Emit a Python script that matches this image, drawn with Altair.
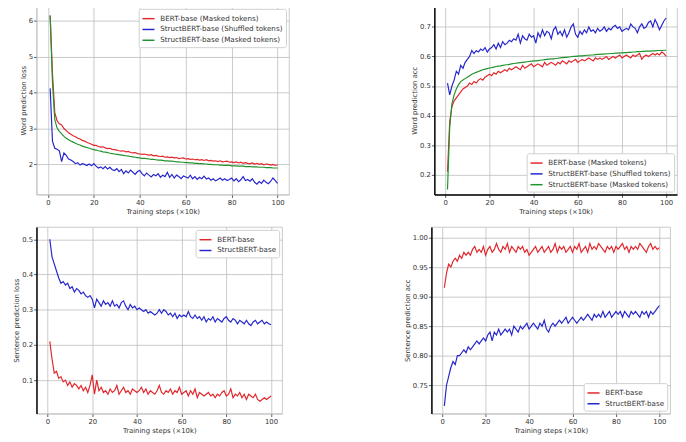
import altair as alt
import pandas as pd

steps = list(range(1, 101))
x_ticks = [0, 20, 40, 60, 80, 100]
X_TITLE = "Training steps (×10k)"
FONT = "DejaVu Sans"
RED = "#e3262b"
BLUE = "#2626cc"
GREEN = "#22922e"

# ---- Panel 1: word prediction loss ----
wl_names = ["BERT-base (Masked tokens)", "StructBERT-base (Shuffled tokens)", "StructBERT-base (Masked tokens)"]
wl_bert_masked = [
    6.15, 4.55, 3.45, 3.22, 3.13, 3.1, 3.0, 2.94, 2.88, 2.84,
    2.8, 2.77, 2.73, 2.71, 2.67, 2.65, 2.61, 2.59, 2.56, 2.53,
    2.53, 2.5, 2.48, 2.49, 2.46, 2.44, 2.45, 2.42, 2.41, 2.4,
    2.38, 2.37, 2.38, 2.35, 2.36, 2.33, 2.32, 2.33, 2.3, 2.29,
    2.28, 2.29, 2.27, 2.26, 2.27, 2.24, 2.25, 2.23, 2.22, 2.23,
    2.2, 2.21, 2.19, 2.2, 2.18, 2.19, 2.16, 2.17, 2.18, 2.15,
    2.16, 2.14, 2.15, 2.13, 2.14, 2.12, 2.13, 2.11, 2.13, 2.1,
    2.11, 2.09, 2.1, 2.08, 2.1, 2.07, 2.08, 2.09, 2.06, 2.07,
    2.05, 2.07, 2.04, 2.06, 2.03, 2.05, 2.03, 2.02, 2.04, 2.01,
    2.03, 2.0, 2.02, 1.99, 2.01, 2.0, 1.98, 2.0, 1.97, 1.99]
wl_struct_shuffled = [
    4.12, 2.65, 2.45, 2.42, 2.38, 2.08, 2.32, 2.25, 2.15, 2.12,
    2.08, 2.02, 2.05, 1.98, 2.02, 2.0, 1.97, 2.01, 1.96, 2.02,
    1.95, 1.9, 1.93, 1.88, 1.94, 1.87, 1.92, 1.85, 1.83, 1.88,
    1.8, 1.86, 1.74, 1.82, 1.76, 1.84, 1.78, 1.72, 1.8, 1.83,
    1.74, 1.68, 1.76, 1.7, 1.65, 1.72, 1.68, 1.74, 1.64, 1.7,
    1.66, 1.78, 1.64, 1.72, 1.62, 1.7, 1.66, 1.6, 1.68, 1.65,
    1.62, 1.7, 1.6, 1.66, 1.58, 1.64, 1.6, 1.67, 1.59, 1.62,
    1.56, 1.6, 1.54, 1.58, 1.62, 1.56, 1.6, 1.55, 1.58, 1.62,
    1.54, 1.6, 1.52, 1.57, 1.66, 1.55, 1.58, 1.53, 1.6, 1.5,
    1.45, 1.52, 1.47, 1.56, 1.5, 1.46, 1.53, 1.62, 1.55, 1.47]
wl_struct_masked = [
    6.15, 4.3, 3.25, 3.02, 2.92, 2.85, 2.78, 2.73, 2.69, 2.65,
    2.62, 2.59, 2.56, 2.54, 2.51, 2.49, 2.47, 2.45, 2.43, 2.41,
    2.4, 2.38, 2.37, 2.35, 2.34, 2.33, 2.31, 2.3, 2.29, 2.28,
    2.27, 2.26, 2.25, 2.24, 2.23, 2.22, 2.21, 2.2, 2.19, 2.18,
    2.17, 2.17, 2.16, 2.15, 2.14, 2.14, 2.13, 2.12, 2.12, 2.11,
    2.1, 2.1, 2.09, 2.09, 2.08, 2.07, 2.07, 2.06, 2.06, 2.05,
    2.05, 2.04, 2.04, 2.03, 2.03, 2.02, 2.02, 2.01, 2.01, 2.0,
    2.0, 1.99, 1.99, 1.99, 1.98, 1.98, 1.97, 1.97, 1.97, 1.96,
    1.96, 1.96, 1.95, 1.95, 1.95, 1.94, 1.94, 1.94, 1.93, 1.93,
    1.93, 1.92, 1.92, 1.92, 1.91, 1.91, 1.91, 1.9, 1.9, 1.9]

# ---- Panel 2: word prediction acc ----
wa_bert_masked = [
    0.21, 0.38, 0.43, 0.45, 0.46, 0.47, 0.48, 0.49, 0.495, 0.5,
    0.51, 0.505, 0.515, 0.51, 0.52, 0.525, 0.52, 0.53, 0.535, 0.54,
    0.535, 0.545, 0.54, 0.55, 0.545, 0.55, 0.555, 0.55, 0.56, 0.555,
    0.56, 0.565, 0.56, 0.555, 0.57, 0.56, 0.565, 0.57, 0.575, 0.565,
    0.57, 0.575, 0.57, 0.565, 0.58, 0.57, 0.575, 0.58, 0.575, 0.57,
    0.58, 0.575, 0.585, 0.58, 0.575, 0.585, 0.58, 0.585, 0.59, 0.58,
    0.585, 0.59, 0.585, 0.59, 0.595, 0.59, 0.585, 0.595, 0.59, 0.595,
    0.59, 0.595, 0.6, 0.59, 0.595, 0.6, 0.595, 0.6, 0.605, 0.595,
    0.6, 0.605, 0.6, 0.595, 0.605, 0.6, 0.605, 0.61, 0.59, 0.6,
    0.605, 0.6, 0.605, 0.61, 0.605, 0.61, 0.605, 0.615, 0.61, 0.6]
wa_struct_shuffled = [
    0.51, 0.47, 0.5, 0.52, 0.55, 0.54, 0.57, 0.56, 0.58, 0.59,
    0.6, 0.62, 0.61, 0.62, 0.615, 0.625, 0.62, 0.63, 0.615, 0.625,
    0.63, 0.64, 0.625, 0.645, 0.63, 0.65, 0.64, 0.645, 0.655, 0.65,
    0.66, 0.655, 0.675, 0.645, 0.67, 0.66, 0.655, 0.675, 0.665, 0.67,
    0.645, 0.68, 0.665, 0.69, 0.67, 0.685, 0.68, 0.66, 0.69, 0.7,
    0.675, 0.685, 0.67, 0.69, 0.665, 0.68, 0.7, 0.71, 0.675, 0.665,
    0.685, 0.675, 0.69, 0.68, 0.7, 0.685, 0.69, 0.68, 0.695, 0.685,
    0.69, 0.7, 0.685, 0.695, 0.69, 0.7, 0.705, 0.695, 0.7, 0.685,
    0.69, 0.695, 0.69, 0.71, 0.7, 0.695, 0.68, 0.7, 0.71, 0.695,
    0.7, 0.715, 0.72, 0.7, 0.725, 0.71, 0.69, 0.705, 0.72, 0.73]
wa_struct_masked = [
    0.15, 0.36, 0.44, 0.47, 0.49, 0.505, 0.515, 0.52, 0.525, 0.53,
    0.535, 0.54, 0.543, 0.546, 0.549, 0.552, 0.555, 0.557, 0.559, 0.561,
    0.562, 0.564, 0.566, 0.567, 0.568, 0.57, 0.571, 0.572, 0.573, 0.575,
    0.576, 0.577, 0.578, 0.579, 0.58, 0.581, 0.582, 0.583, 0.584, 0.585,
    0.585, 0.586, 0.587, 0.588, 0.589, 0.59, 0.591, 0.592, 0.592, 0.593,
    0.594, 0.595, 0.596, 0.597, 0.597, 0.598, 0.599, 0.6, 0.6, 0.601,
    0.602, 0.602, 0.603, 0.604, 0.604, 0.605, 0.605, 0.606, 0.607, 0.607,
    0.608, 0.608, 0.609, 0.609, 0.61, 0.61, 0.611, 0.611, 0.612, 0.612,
    0.613, 0.613, 0.614, 0.614, 0.615, 0.615, 0.616, 0.616, 0.617, 0.617,
    0.618, 0.618, 0.618, 0.619, 0.619, 0.62, 0.62, 0.62, 0.621, 0.621]

# ---- Panel 3: sentence prediction loss ----
s_names = ["BERT-base", "StructBERT-base"]
sl_bert = [
    0.21, 0.16, 0.12, 0.125, 0.105, 0.11, 0.095, 0.1, 0.085, 0.095,
    0.08, 0.09, 0.085, 0.075, 0.085, 0.07, 0.08, 0.065, 0.085, 0.115,
    0.06, 0.1, 0.07, 0.08, 0.065, 0.07, 0.06, 0.075, 0.065, 0.07,
    0.085, 0.06, 0.07, 0.08, 0.065, 0.07, 0.06, 0.075, 0.07, 0.065,
    0.07, 0.08, 0.065, 0.075, 0.06, 0.07, 0.065, 0.06, 0.07, 0.085,
    0.065, 0.06, 0.07, 0.065, 0.075, 0.06, 0.07, 0.065, 0.08, 0.06,
    0.065, 0.07, 0.055, 0.07, 0.06, 0.075, 0.05, 0.065, 0.06, 0.055,
    0.06, 0.065, 0.055, 0.06, 0.05, 0.06, 0.055, 0.065, 0.07, 0.055,
    0.06, 0.075, 0.05, 0.06, 0.055, 0.065, 0.05, 0.06, 0.045, 0.06,
    0.055, 0.05, 0.06, 0.045, 0.04, 0.045, 0.05, 0.045, 0.05, 0.055]
sl_struct = [
    0.5, 0.45, 0.43, 0.41, 0.39, 0.375, 0.38, 0.37, 0.375, 0.36,
    0.365, 0.35, 0.36, 0.355, 0.345, 0.35, 0.34, 0.335, 0.34, 0.33,
    0.305, 0.33, 0.32, 0.31, 0.325, 0.315, 0.32, 0.31, 0.325, 0.31,
    0.315, 0.305, 0.32, 0.325, 0.31, 0.3, 0.315, 0.305, 0.31, 0.3,
    0.305, 0.3, 0.295, 0.3, 0.29, 0.295, 0.29, 0.285, 0.29, 0.3,
    0.29, 0.3, 0.295, 0.285, 0.29, 0.28, 0.29, 0.275, 0.285, 0.28,
    0.285, 0.28, 0.295, 0.28, 0.275, 0.285, 0.275, 0.28, 0.27, 0.28,
    0.265, 0.275, 0.27, 0.28, 0.265, 0.275, 0.27, 0.265, 0.275, 0.28,
    0.27, 0.265, 0.275, 0.27, 0.26, 0.27, 0.265, 0.26, 0.27, 0.26,
    0.255, 0.265, 0.27, 0.26, 0.265, 0.27, 0.26, 0.265, 0.26, 0.257]

# ---- Panel 4: sentence prediction acc ----
sa_bert = [
    0.915, 0.94, 0.955, 0.95, 0.96, 0.965, 0.96, 0.97, 0.965, 0.975,
    0.97, 0.975, 0.97, 0.98, 0.985, 0.975, 0.98, 0.975, 0.985, 0.97,
    0.98, 0.985, 0.975, 0.98, 0.99, 0.98, 0.975, 0.985, 0.98, 0.99,
    0.975, 0.985, 0.98, 0.975, 0.985, 0.98, 0.985, 0.975, 0.98, 0.97,
    0.975, 0.98, 0.985, 0.975, 0.98, 0.985, 0.975, 0.98, 0.985, 0.975,
    0.98, 0.99, 0.975, 0.985, 0.98, 0.985, 0.975, 0.98, 0.985, 0.975,
    0.985, 0.98, 0.99, 0.975, 0.98, 0.985, 0.975, 0.99, 0.98, 0.985,
    0.98, 0.99, 0.985, 0.98, 0.975, 0.985, 0.98, 0.985, 0.975, 0.985,
    0.98, 0.985, 0.99, 0.98, 0.985, 0.975, 0.985, 0.98, 0.985, 0.98,
    0.99, 0.985, 0.98, 0.975, 0.985, 0.99, 0.98, 0.985, 0.98, 0.983]
sa_struct = [
    0.715, 0.75, 0.765, 0.78, 0.79, 0.785, 0.8, 0.8, 0.805, 0.81,
    0.805, 0.815, 0.81, 0.815, 0.82, 0.825, 0.82, 0.825, 0.83, 0.825,
    0.835, 0.84, 0.825, 0.84, 0.835, 0.845, 0.835, 0.84, 0.845, 0.84,
    0.845, 0.835, 0.85, 0.845, 0.84, 0.85, 0.845, 0.85, 0.855, 0.845,
    0.85, 0.855, 0.85, 0.845, 0.855, 0.85, 0.86, 0.845, 0.84, 0.85,
    0.855, 0.85, 0.855, 0.86, 0.855, 0.86, 0.865, 0.855, 0.86, 0.865,
    0.86, 0.855, 0.86, 0.865, 0.86, 0.865, 0.87, 0.865, 0.86, 0.87,
    0.865, 0.87, 0.865, 0.875, 0.865, 0.87, 0.875, 0.865, 0.87, 0.875,
    0.87, 0.875, 0.865, 0.875, 0.87, 0.865, 0.875, 0.87, 0.875, 0.87,
    0.865, 0.875, 0.87, 0.875, 0.865, 0.875, 0.87, 0.875, 0.88, 0.885]


def panel(series, names, colors, ytitle, ydom, yticks, yfmt, legend_orient,
          w, h, left_color, bottom_color):
    rows = []
    for name, vals in zip(names, series):
        for s, v in zip(steps, vals):
            rows.append({"step": s, "value": v, "model": name})
    df = pd.DataFrame(rows)
    common = dict(grid=True, gridColor="#bdbdbd", gridWidth=0.8,
                  tickColor="#333333", tickSize=3, tickWidth=0.8,
                  labelFont=FONT, labelFontSize=7, labelColor="#333333",
                  titleFont=FONT, titleFontSize=7, titleFontWeight="normal",
                  titleColor="#333333")
    x = alt.X("step:Q",
              scale=alt.Scale(domain=[-4.95, 104.95], nice=False, zero=False),
              axis=alt.Axis(title=X_TITLE, values=x_ticks, format="d",
                            labelPadding=1, titlePadding=2,
                            domainColor=bottom_color,
                            domainWidth=1.5 if bottom_color == "black" else 0.8,
                            **common))
    y = alt.Y("value:Q",
              scale=alt.Scale(domain=ydom, nice=False, zero=False),
              axis=alt.Axis(title=ytitle, values=yticks, format=yfmt,
                            labelPadding=1, titlePadding=2,
                            domainColor=left_color,
                            domainWidth=1.5 if left_color == "black" else 0.8,
                            **common))
    color = alt.Color("model:N",
                      scale=alt.Scale(domain=names, range=colors),
                      legend=alt.Legend(title=None, orient=legend_orient, offset=3,
                                        fillColor="white", strokeColor="#d0d0d0",
                                        padding=3, cornerRadius=2,
                                        symbolType="stroke", symbolSize=150,
                                        symbolStrokeWidth=1.5,
                                        labelFont=FONT, labelFontSize=7.3,
                                        labelColor="#333333", rowPadding=0,
                                        labelOffset=5, labelLimit=300))
    return alt.Chart(df).mark_line(strokeWidth=1.2, clip=True).encode(
        x=x, y=y, color=color, order="step:Q").properties(width=w, height=h)


p1 = panel([wl_bert_masked, wl_struct_shuffled, wl_struct_masked], wl_names,
           [RED, BLUE, GREEN], "Word prediction loss", [1.16, 6.42],
           [2, 3, 4, 5, 6], "d", "top-right", 257, 192, "#bdbdbd", "#bdbdbd")
p2 = panel([wa_bert_masked, wa_struct_shuffled, wa_struct_masked], wl_names,
           [RED, BLUE, GREEN], "Word prediction acc", [0.133, 0.771],
           [0.2, 0.3, 0.4, 0.5, 0.6, 0.7], ".1f", "bottom-right", 247, 192,
           "black", "black")
p3 = panel([sl_bert, sl_struct], s_names, [RED, BLUE],
           "Sentence prediction loss", [0.005, 0.535],
           [0.1, 0.2, 0.3, 0.4, 0.5], ".1f", "top-right", 250, 190,
           "black", "#bdbdbd")
p4 = panel([sa_bert, sa_struct], s_names, [RED, BLUE],
           "Sentence prediction acc", [0.702, 1.018],
           [0.75, 0.8, 0.85, 0.9, 0.95, 1.0], ".2f", "bottom-right", 243, 190,
           "black", "#bdbdbd")

row1 = alt.hconcat(p1, p2, spacing=122).resolve_scale(color="independent")
row2 = alt.hconcat(p3, p4, spacing=122).resolve_scale(color="independent")

chart = alt.vconcat(row1, row2, spacing=11).resolve_scale(
    color="independent"
).properties(
    padding={"left": 4, "top": -7, "right": 0, "bottom": 0}
).configure_view(stroke="#bdbdbd", strokeWidth=0.8)

chart.save("out.html", embed_options={"renderer": "svg", "actions": False})
